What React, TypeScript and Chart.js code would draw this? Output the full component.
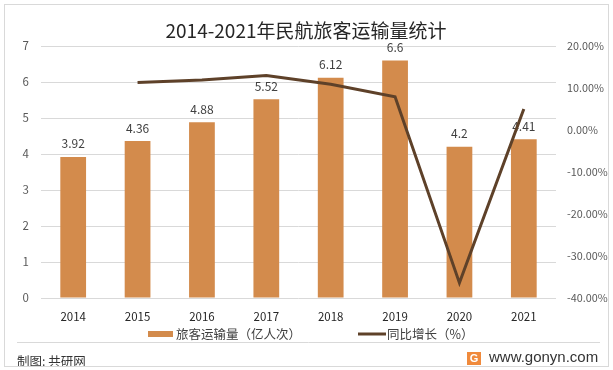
import React, { useEffect, useRef } from "react";
import { Chart, registerables } from "chart.js";

Chart.register(...registerables);

const categories = ["2014", "2015", "2016", "2017", "2018", "2019", "2020", "2021"];
const passengerVolume = [3.92, 4.36, 4.88, 5.52, 6.12, 6.6, 4.2, 4.41];
const yoyGrowth = [null, 11.3, 11.9, 13.0, 10.9, 7.9, -36.4, 5.0];
const titleText = "2014-2021年民航旅客运输量统计";
const barLegend = "旅客运输量（亿人次）";
const lineLegend = "同比增长（%）";
const footerLeft = "制图: 共研网";
const footerRight = "www.gonyn.com";

const BAR_COLOR = "#D38B4C";
const LINE_COLOR = "#5E4129";
const CJK = '"Noto Sans CJK SC", "Noto Sans", sans-serif';
const LATIN = '"Liberation Sans", Arial, sans-serif';

export default function App() {
  const ref = useRef<HTMLCanvasElement | null>(null);

  useEffect(() => {
    const canvas = ref.current!;
    const decorPlugin = {
      id: "decor",
      beforeDraw(chart: any) {
        const ctx = chart.ctx;
        ctx.save();
        ctx.fillStyle = "#ffffff";
        ctx.fillRect(0, 0, chart.width, chart.height);
        ctx.restore();
      },
      afterDatasetDraw(chart: any, args: any) {
        if (args.index !== 0) return;
        const ctx = chart.ctx;
        const meta = chart.getDatasetMeta(0);
        ctx.save();
        ctx.font = `12px ${CJK}`;
        ctx.fillStyle = "#404040";
        ctx.textAlign = "center";
        ctx.textBaseline = "middle";
        meta.data.forEach((el: any, i: number) => {
          ctx.fillText(String(passengerVolume[i]), el.x, el.y - 13);
        });
        ctx.restore();
      },
      afterDraw(chart: any) {
        const ctx = chart.ctx;
        ctx.save();
        // title
        ctx.font = `19px ${CJK}`;
        ctx.fillStyle = "#262626";
        ctx.textAlign = "center";
        ctx.textBaseline = "middle";
        ctx.fillText(titleText, 306, 31);
        // legend
        ctx.fillStyle = BAR_COLOR;
        ctx.fillRect(148, 331, 25, 6);
        ctx.font = `12.5px ${CJK}`;
        ctx.fillStyle = "#404040";
        ctx.textAlign = "left";
        ctx.fillText(barLegend, 176, 334);
        ctx.strokeStyle = LINE_COLOR;
        ctx.lineWidth = 3;
        ctx.beginPath();
        ctx.moveTo(358, 334);
        ctx.lineTo(386, 334);
        ctx.stroke();
        ctx.fillText(lineLegend, 387, 334);
        // divider
        ctx.strokeStyle = "#d9d9d9";
        ctx.lineWidth = 1;
        ctx.beginPath();
        ctx.moveTo(17, 342.5);
        ctx.lineTo(600, 342.5);
        ctx.stroke();
        // footer
        ctx.font = `12.5px ${CJK}`;
        ctx.fillStyle = "#333333";
        ctx.textAlign = "left";
        ctx.fillText(footerLeft, 17, 361);
        // icon
        ctx.fillStyle = "#F08A3C";
        ctx.fillRect(467, 352, 14, 13);
        ctx.fillStyle = "#ffffff";
        ctx.font = `bold 11px ${LATIN}`;
        ctx.textAlign = "center";
        ctx.fillText("G", 474, 359);
        ctx.font = `15px ${LATIN}`;
        ctx.fillStyle = "#333333";
        ctx.textAlign = "left";
        ctx.fillText(footerRight, 489, 358);
        // outer border
        ctx.strokeStyle = "#d9d9d9";
        ctx.strokeRect(4.5, 4.5, 604, 362);
        ctx.restore();
      },
    };

    const chart = new Chart(canvas, {
      type: "bar",
      data: {
        labels: categories,
        datasets: [
          {
            type: "bar",
            label: barLegend,
            data: passengerVolume,
            backgroundColor: BAR_COLOR,
            yAxisID: "y",
            order: 2,
            categoryPercentage: 1,
            barPercentage: 0.4,
          },
          {
            type: "line",
            label: lineLegend,
            data: yoyGrowth as any,
            borderColor: LINE_COLOR,
            backgroundColor: LINE_COLOR,
            borderWidth: 3,
            pointRadius: 0,
            tension: 0,
            yAxisID: "y1",
            order: 1,
            spanGaps: false,
          },
        ],
      },
      options: {
        responsive: false,
        animation: false,
        layout: { padding: { top: 46, left: 0, right: 0, bottom: 0 } },
        plugins: {
          legend: { display: false },
          title: { display: false },
          tooltip: { enabled: false },
        },
        scales: {
          x: {
            grid: { display: false },
            border: { display: false },
            ticks: {
              color: "#262626",
              font: { size: 11.5, family: CJK },
              padding: 4,
              maxRotation: 0,
            },
            afterFit(scale: any) {
              scale.height = 72;
            },
          },
          y: {
            position: "left",
            min: 0,
            max: 7,
            ticks: {
              stepSize: 1,
              color: "#595959",
              font: { size: 11.5, family: CJK },
              padding: 12,
            },
            grid: { color: "#d9d9d9", drawTicks: false, lineWidth: 1 },
            border: { display: false },
            afterFit(scale: any) {
              scale.width = 41;
            },
          },
          y1: {
            position: "right",
            min: -40,
            max: 20,
            ticks: {
              stepSize: 10,
              color: "#595959",
              font: { size: 10.8, family: CJK },
              padding: 11,
              callback: (v: any) => Number(v).toFixed(2) + "%",
            },
            grid: { display: false, drawTicks: false },
            border: { display: false },
            afterFit(scale: any) {
              scale.width = 57;
            },
          },
        },
      },
      plugins: [decorPlugin],
    });
    return () => chart.destroy();
  }, []);

  return (
    <div style={{ position: "fixed", left: 0, top: 0, width: 613, height: 370, background: "#fff" }}>
      <canvas ref={ref} width={613} height={370} style={{ display: "block", width: 613, height: 370 }} />
    </div>
  );
}
